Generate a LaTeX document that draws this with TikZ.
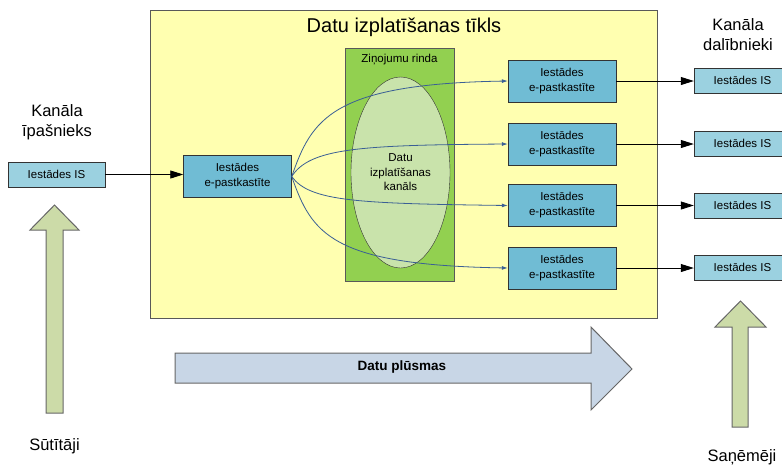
\documentclass[tikz,border=0pt]{standalone}
\usepackage{fontspec}
\setmainfont{Liberation Sans}
\usetikzlibrary{arrows.meta,shapes.geometric}

\definecolor{netyellow}{HTML}{FFFFB0}
\definecolor{queuegreen}{HTML}{92D050}
\definecolor{chanlight}{HTML}{C9E3AB}
\definecolor{mailblue}{HTML}{70BCD4}
\definecolor{isblue}{HTML}{9BD1E0}
\definecolor{feedblue}{HTML}{3A5F95}
\definecolor{uparrowgreen}{HTML}{CCDBA8}
\definecolor{flowgrey}{HTML}{C8D6E6}

\tikzset{
  mailbox/.style={draw=black!80, fill=mailblue, minimum width=108pt, minimum height=42pt,
    inner sep=0pt, align=center, font=\fontsize{11.5}{15}\selectfont},
  isbox/.style={draw=black!80, fill=isblue, minimum width=97pt, minimum height=25pt,
    inner sep=0pt, font=\fontsize{11.5}{14}\selectfont},
  feed/.style={draw=feedblue, line width=0.8pt, -{Latex[length=6pt,width=4pt]}},
  link/.style={draw=black, line width=0.8pt, -{Triangle[length=13pt,width=8pt]}},
  blockarrow/.style={draw=black!60, line width=1pt},
  sidelabel/.style={align=center, font=\fontsize{16.5}{20}\selectfont}
}

\begin{document}
\begin{tikzpicture}[x=1pt,y=-1pt]

\useasboundingbox (0,0) rectangle (782,467);

% Draw the network area
\draw[draw=black!65, line width=1pt, fill=netyellow] (150,10) rectangle (657,318);
\node[font=\fontsize{20}{24}\selectfont] (title) at (404,27) {Datu izplatīšanas tīkls};

% Draw the message queue
\draw[draw=black!65, line width=1pt, fill=queuegreen] (345,48) rectangle (454,281);
\node[font=\fontsize{11.5}{14}\selectfont] (queue) at (399.5,60) {Ziņojumu rinda};

% Channel ellipse
\node[ellipse, draw=black!80, fill=chanlight, minimum width=99pt, minimum height=191pt,
  inner sep=0pt, align=center, font=\fontsize{11.5}{14.5}\selectfont]
  (chan) at (400.5,172.5) {Datu\\izplatīšanas\\kanāls};

% Sender side
\node[isbox] (srcIS) at (56.5,174.5) {Iestādes IS};
\node[mailbox] (srcBox) at (237.5,176.5) {Iestādes\\e-pastkastīte};
\draw[link] (srcIS.east) -- (srcIS.east -| srcBox.west);

% Receiver mailboxes
\node[mailbox] (mail1) at (562,81) {Iestādes\\e-pastkastīte};
\node[mailbox] (mail2) at (562,144) {Iestādes\\e-pastkastīte};
\node[mailbox] (mail3) at (562,205.5) {Iestādes\\e-pastkastīte};
\node[mailbox] (mail4) at (562,268) {Iestādes\\e-pastkastīte};

% Receiver systems
\node[isbox] (dest1) at (742.5,80.5) {Iestādes IS};
\node[isbox] (dest2) at (742.5,143.5) {Iestādes IS};
\node[isbox] (dest3) at (742.5,205.5) {Iestādes IS};
\node[isbox] (dest4) at (742.5,267.5) {Iestādes IS};

% Draw links mailbox -> IS
\draw[link] (mail1.east) -- (mail1.east -| dest1.west);
\draw[link] (mail2.east) -- (mail2.east -| dest2.west);
\draw[link] (mail3.east) -- (mail3.east -| dest3.west);
\draw[link] (mail4.east) -- (mail4.east -| dest4.west);

% Draw the channel feeds
\draw[feed] (srcBox.east) .. controls +(20,-57) and +(-177,3) .. (mail1.west);
\draw[feed] (srcBox.east) .. controls +(18,-28) and +(-150,1) .. (mail2.west);
\draw[feed] (srcBox.east) .. controls +(18,25) and +(-150,-2) .. (mail3.west);
\draw[feed] (srcBox.east) .. controls +(20,57) and +(-177,-3) .. (mail4.west);

% Side labels
\node[sidelabel] (owner) at (57,122) {Kanāla\\īpašnieks};
\node[sidelabel] (members) at (738,35) {Kanāla\\dalībnieki};
\node[sidelabel] (senders) at (54.5,446) {Sūtītāji};
\node[sidelabel] (receivers) at (742,457) {Saņēmēji};

% Draw the up arrows
\draw[blockarrow, fill=uparrowgreen] (54.5,205) -- (79,230) -- (63,230) -- (63,413)
  -- (46,413) -- (46,230) -- (30,230) -- cycle;
\draw[blockarrow, fill=uparrowgreen] (740.5,301) -- (766,327) -- (748,327) -- (748,427)
  -- (732,427) -- (732,327) -- (715,327) -- cycle;

% Draw the data flow arrow
\draw[blockarrow, fill=flowgrey] (175,353) -- (591,353) -- (591,327) -- (632,369)
  -- (591,410) -- (591,383) -- (175,383) -- cycle;
\node[font=\bfseries\fontsize{13.5}{16}\selectfont] (flow) at (402,367) {Datu plūsmas};

\end{tikzpicture}
\end{document}
